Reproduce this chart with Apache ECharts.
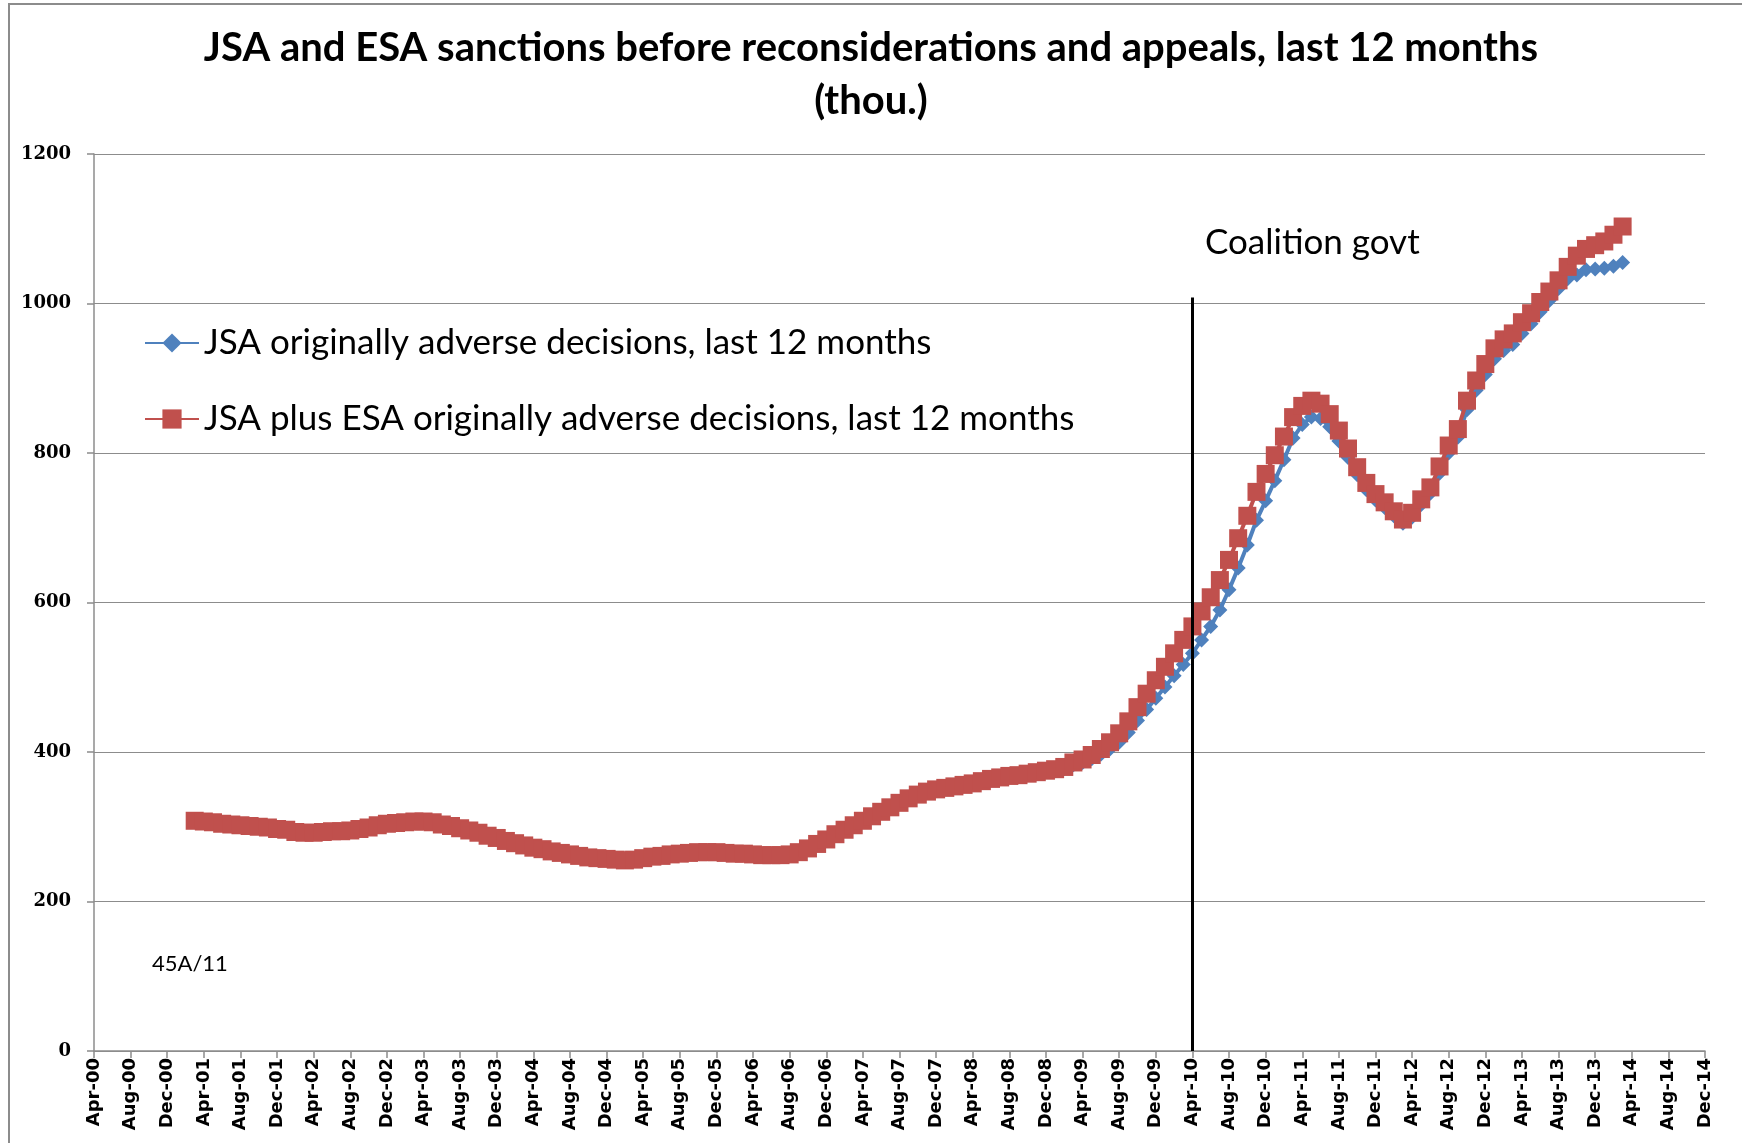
<!DOCTYPE html>
<html>
<head>
<meta charset="utf-8">
<script src="https://cdn.jsdelivr.net/npm/echarts@6/dist/echarts.min.js"></script>
<style>
html,body{margin:0;padding:0;background:#fff;}
#chart{width:1742px;height:1143px;}
</style>
</head>
<body>
<div id="chart"></div>
<script>
// Category axis: monthly, Apr-00 .. Dec-14
const monthNames = ['Jan','Feb','Mar','Apr','May','Jun','Jul','Aug','Sep','Oct','Nov','Dec'];
const axisStart = {year: 2000, month: 3};   // Apr-00
const axisMonths = 177;                      // to Dec-14
const dataStartLabel = 'Mar-01';             // first month with data
const coalitionLabel = 'Apr-10';
const coalitionLineTop = 1008;

// JSA plus ESA originally adverse decisions, last 12 months (thou.), Mar-01 .. Mar-14
const jsaPlusEsa = [
  308,307,306,304,303,302,301,300,299,297,296,293,
  292,292,293,294,294,295,297,299,302,304,305,306,
  307,307,306,303,301,298,295,292,288,285,281,278,
  275,272,270,267,265,263,261,259,258,257,256,255,
  256,258,260,261,263,264,265,266,266,266,265,264,
  264,263,262,262,262,263,266,271,277,283,290,296,
  302,308,314,320,326,332,338,343,347,350,352,354,
  356,358,361,364,366,368,369,371,373,375,377,380,
  386,390,396,404,413,425,441,460,478,496,514,532,
  550,568,588,607,630,657,686,716,748,772,797,822,
  848,863,870,866,852,830,806,781,760,745,734,722,
  711,720,738,754,782,810,832,870,897,919,940,952,
  960,975,987,1002,1016,1031,1049,1064,1073,1078,1083,1092,1103
];

// JSA originally adverse decisions, last 12 months (thou.), Mar-01 .. Mar-14
const jsa = [
  308,307,306,304,303,302,301,300,299,297,296,293,
  292,292,293,294,294,295,297,299,302,304,305,306,
  307,307,306,303,301,298,295,292,288,285,281,278,
  275,272,270,267,265,263,261,259,258,257,256,255,
  256,258,260,261,263,264,265,266,266,266,265,264,
  264,263,262,262,262,263,266,271,277,283,290,296,
  302,308,314,320,326,332,338,343,347,350,352,354,
  356,358,361,364,366,368,369,371,372,374,375,378,
  383,386,391,397,404,413,426,442,457,472,487,502,
  517,532,550,568,590,617,646,677,710,736,763,791,
  820,838,848,846,835,816,794,771,751,737,727,716,
  706,714,731,746,773,800,821,858,884,905,926,937,
  945,960,973,989,1004,1020,1033,1038,1045,1046,1047,1050,1055
];

const yTicks = {min: 0, max: 1200, interval: 200};

// build categories
const categories = [];
for (let i = 0; i < axisMonths; i++) {
  const t = axisStart.month + i;
  const y = axisStart.year + Math.floor(t / 12);
  const m = t % 12;
  categories.push(monthNames[m] + '-' + String(y % 100).padStart(2, '0'));
}
const offset = categories.indexOf(dataStartLabel);
function place(arr) {
  const out = new Array(categories.length).fill(null);
  arr.forEach((v, i) => { out[offset + i] = v; });
  return out;
}

const chart = echarts.init(document.getElementById('chart'), null, {renderer: 'canvas'});
const gridColor = '#8c8c8c';
chart.setOption({
  animation: false,
  backgroundColor: '#ffffff',
  title: {
    text: 'JSA and ESA sanctions before reconsiderations and appeals, last 12 months\n(thou.)',
    left: 'center',
    top: 22,
    padding: 0,
    textStyle: {fontFamily: 'Lato', fontWeight: 'bold', fontSize: 40, lineHeight: 53, color: '#000'}
  },
  legend: {
    orient: 'vertical',
    left: 144,
    top: 322,
    padding: 0,
    itemWidth: 54,
    itemHeight: 24,
    itemGap: 34,
    textStyle: {fontFamily: 'Lato', fontSize: 35, color: '#000', lineHeight: 42},
    data: ['JSA originally adverse decisions, last 12 months', 'JSA plus ESA originally adverse decisions, last 12 months']
  },
  grid: {left: 94, right: 37, top: 154, bottom: 92, containLabel: false},
  xAxis: {
    type: 'category',
    data: categories,
    boundaryGap: false,
    axisLine: {lineStyle: {color: gridColor, width: 1.5}},
    axisTick: {interval: 3, length: 7, lineStyle: {color: gridColor, width: 1.5}},
    axisLabel: {interval: 3, rotate: 90, margin: 7, fontFamily: 'DejaVu Sans', fontWeight: 'bold', fontSize: 18, color: '#000'},
    splitLine: {show: false}
  },
  yAxis: {
    type: 'value',
    min: yTicks.min, max: yTicks.max, interval: yTicks.interval,
    axisLine: {show: true, lineStyle: {color: gridColor, width: 1.5}},
    axisTick: {show: true, length: 7, lineStyle: {color: gridColor, width: 1.5}},
    axisLabel: {margin: 23, fontFamily: 'DejaVu Serif', fontWeight: 'bold', fontSize: 18, color: '#000', formatter: function (v) { return String(v); }},
    splitLine: {show: true, lineStyle: {color: gridColor, width: 1.2}}
  },
  series: [
    {
      name: 'JSA originally adverse decisions, last 12 months',
      type: 'line',
      data: place(jsa),
      symbol: 'diamond',
      symbolSize: 15,
      showAllSymbol: true,
      lineStyle: {color: '#4F81BD', width: 4},
      itemStyle: {color: '#4F81BD'},
      emphasis: {disabled: true},
      z: 2
    },
    {
      name: 'JSA plus ESA originally adverse decisions, last 12 months',
      type: 'line',
      data: place(jsaPlusEsa),
      symbol: 'rect',
      symbolSize: 18,
      showAllSymbol: true,
      lineStyle: {color: '#C0504D', width: 4},
      itemStyle: {color: '#C0504D'},
      emphasis: {disabled: true},
      z: 3,
      markLine: {
        silent: true,
        symbol: ['none', 'none'],
        label: {show: false},
        lineStyle: {color: '#000', width: 3, type: 'solid'},
        data: [[{coord: [coalitionLabel, 0]}, {coord: [coalitionLabel, coalitionLineTop]}]]
      }
    }
  ],
  graphic: [
    {type: 'rect', shape: {x: 9, y: 4, width: 1800, height: 1200}, style: {fill: 'none', stroke: gridColor, lineWidth: 2}, silent: true},
    {type: 'text', style: {x: 1205, y: 243, text: 'Coalition govt', fontFamily: 'Lato', fontSize: 35, fill: '#000', verticalAlign: 'middle'}},
    {type: 'text', style: {x: 152, y: 964, text: '45A/11', fontFamily: 'Lato', fontSize: 22, fill: '#000', verticalAlign: 'middle'}}
  ]
});
</script>
</body>
</html>
